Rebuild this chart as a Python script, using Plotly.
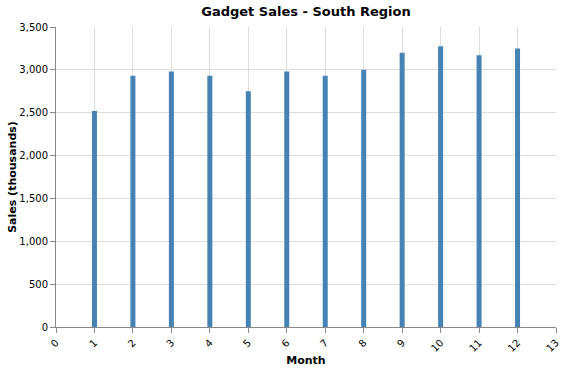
import plotly.graph_objects as go

months = [1, 2, 3, 4, 5, 6, 7, 8, 9, 10, 11, 12]
sales = [2520, 2930, 2980, 2930, 2750, 2980, 2930, 3000, 3200, 3275, 3170, 3250]
x_ticks = list(range(0, 14))
y_ticks = [0, 500, 1000, 1500, 2000, 2500, 3000, 3500]

fig = go.Figure()
fig.add_trace(go.Bar(
    x=months, y=sales, width=0.13,
    marker=dict(color="#4682b4", line=dict(width=0)),
    hoverinfo="skip",
))

font_family = "DejaVu Sans, sans-serif"
fig.update_layout(
    width=569, height=371,
    margin=dict(l=56, r=13, t=27, b=44),
    plot_bgcolor="white", paper_bgcolor="white",
    showlegend=False,
    font=dict(family=font_family, size=10, color="#000"),
    title=dict(text="<b>Gadget Sales - South Region</b>", x=0.5, xref="paper",
               y=1 - 11/371, yref="container", yanchor="middle", xanchor="center",
               font=dict(size=13, color="#000", family=font_family)),
    xaxis=dict(
        range=[0, 13], tickvals=x_ticks, ticktext=[str(v) for v in x_ticks],
        tickangle=-45, showgrid=True, gridcolor="#ddd", gridwidth=1,
        showline=True, linecolor="#888", linewidth=1,
        ticks="outside", ticklen=5, tickcolor="#888",
        zeroline=False, automargin=False,
        title=dict(text="<b>Month</b>", font=dict(size=11, family=font_family), standoff=3),
        tickfont=dict(size=10, family=font_family),
    ),
    yaxis=dict(
        range=[0, 3500], tickvals=y_ticks, tickformat=",",
        showgrid=True, gridcolor="#ddd", gridwidth=1,
        showline=True, linecolor="#888", linewidth=1,
        ticks="outside", ticklen=5, tickcolor="#888",
        zeroline=False, automargin=False,
        title=dict(text="<b>Sales (thousands)</b>", font=dict(size=11, family=font_family), standoff=0),
        tickfont=dict(size=10, family=font_family),
    ),
)

fig.write_html("out.html")
